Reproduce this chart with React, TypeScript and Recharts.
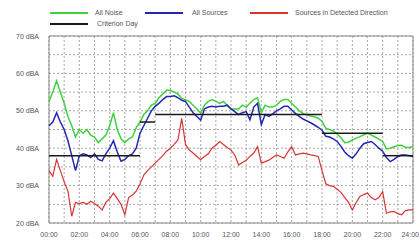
import React from 'react';
import {
  LineChart,
  Line,
  XAxis,
  YAxis,
  CartesianGrid,
  ReferenceArea,
} from 'recharts';

// levels every 15 minutes, 00:00 .. 24:00 (dBA)
const ALL_NOISE = [
  52.5, 55, 58, 55, 52, 48.5, 46, 43, 45, 44, 45, 43.5, 43, 41.5, 42.5, 43.5,
  46, 49.5, 45, 42.5, 41.5, 42.5, 43, 45.5, 47, 49, 50, 51.5, 52, 53.5, 54.5, 55.5,
  55.5, 55, 54.5, 53.3, 53, 52.5, 51.5, 50.5, 49.4, 51.5, 52.5, 53, 52.5, 52, 52.5, 51.5,
  50.5, 50.5, 50.5, 51.5, 51, 52, 53, 53.5, 49.5, 51.5, 51, 51, 51.5, 52.5, 53, 53,
  52, 51, 50, 49.3, 48.9, 48.6, 48.4, 48, 47.2, 45.3, 45, 44.6, 43.8, 42.8, 41.5, 41.6,
  42.2, 42.7, 43.1, 43.6, 44, 43.5, 43, 42.4, 41.8, 39.8, 40, 40.4, 40.7, 40.8, 40.2, 40.2,
  40.4,
];

const ALL_SOURCES = [
  46, 47, 49.5, 47, 45, 42, 38, 34, 38, 38.5, 38.2, 37.5, 38.5, 37, 36.6, 38.5,
  40, 42, 39, 36.5, 37, 38, 38.5, 40, 44, 46, 48, 50, 51.2, 52, 53, 53.8,
  53.8, 54, 53.5, 52.8, 52.5, 51, 49.5, 48.5, 47.5, 50.5, 51, 51.2, 51, 51.2, 51.2, 51.5,
  50.5, 49.8, 49, 49.5, 49.8, 47.6, 51, 52, 46.3, 49, 48.5, 49.2, 50, 50.5, 51.2, 51.2,
  50.2, 49.3, 48.5, 47.8, 47.3, 46.8, 46.2, 45.6, 44.8, 43.2, 43, 42.5, 41.8, 40.5, 39, 38,
  37.3, 38.5, 40, 41.2, 41.5, 41.8, 41, 40, 39.2, 37.5, 36.4, 37, 37.8, 38.2, 38.2, 38,
  37.8,
];

const DETECTED_DIRECTION = [
  34, 32.5, 37, 34, 31, 28.5, 21.8, 25.5, 25.2, 25.5, 25, 25.8, 25.2, 24.5, 23.5, 25.5,
  26.5, 28, 26.5, 25, 22.2, 26.8, 27.5, 28.5, 30.5, 32.8, 34, 35, 36, 37, 38, 39.2,
  40, 41, 42.2, 48, 41, 39.5, 38.7, 37.8, 36.9, 37.8, 38.5, 40, 40.8, 41.8, 41, 40.2,
  39.5, 38.2, 35.5, 36.2, 36.8, 37.8, 38.7, 40.4, 36, 36.4, 36.8, 37.5, 38.2, 37.8, 37.3, 39,
  40.4, 38.2, 38.5, 38.7, 38.5, 38.2, 38, 37.8, 34, 30.5, 30, 29.8, 29, 28.2, 26.8, 25.5,
  23.5, 25.5, 27.1, 27.6, 28, 26.8, 26.2, 26.8, 28.4, 22.6, 23, 23.1, 22.5, 22.2, 23.3, 23.5,
  23.5,
];

// criterion day: [from hour, to hour, level]
const CRITERION_STEPS: [number, number, number][] = [
  [0, 6, 38],
  [6, 7, 47],
  [7, 18, 49],
  [18, 22, 44],
  [22, 24, 38],
];

const X_TICKS = [0, 2, 4, 6, 8, 10, 12, 14, 16, 18, 20, 22, 24];
const Y_TICKS = [20, 30, 40, 50, 60, 70];
const GRID_HOURS = Array.from({ length: 25 }, (_, i) => i);
const GRID_LEVELS = [20, 25, 30, 35, 40, 45, 50, 55, 60, 65, 70];

const COLORS = {
  noise: '#3fd13f',
  sources: '#2228b4',
  direction: '#d83434',
  criterion: '#1a1a1a',
};

const LEGEND = [
  { label: 'All Noise', color: COLORS.noise, x: 50, y: 13, textX: 95 },
  { label: 'All Sources', color: COLORS.sources, x: 145, y: 13, textX: 192 },
  { label: 'Sources in Detected Direction', color: COLORS.direction, x: 250, y: 13, textX: 295 },
  { label: 'Criterion Day', color: COLORS.criterion, x: 50, y: 24, textX: 97 },
];

const FONT = '"Liberation Sans", Arial, sans-serif';
const TEXT_COLOR = '#555';

const data = ALL_NOISE.map((v, i) => ({
  t: i / 4,
  noise: v,
  sources: ALL_SOURCES[i],
  direction: DETECTED_DIRECTION[i],
}));

const fmtHour = (h: number) => `${String(h).padStart(2, '0')}:00`;

const XTick = (props: any) => {
  const { x, y, payload } = props;
  const last = payload.value === 24;
  return (
    <text
      x={last ? 419 : x}
      y={y}
      dy={4}
      textAnchor={last ? 'end' : 'middle'}
      fontSize={7}
      fontFamily={FONT}
      fill={TEXT_COLOR}
    >
      {fmtHour(payload.value)}
    </text>
  );
};

const YTick = (props: any) => {
  const { x, y, payload } = props;
  return (
    <text
      x={x}
      y={y}
      dy={2.5}
      textAnchor="end"
      fontSize={7}
      fontFamily={FONT}
      fill={TEXT_COLOR}
    >
      {`${payload.value} dBA`}
    </text>
  );
};

export default function App() {
  return (
    <div
      style={{
        position: 'fixed',
        left: 0,
        top: 0,
        width: 420,
        height: 244,
        background: '#fff',
        fontFamily: FONT,
      }}
    >
      {/* legend */}
      {LEGEND.map(item => (
        <React.Fragment key={item.label}>
          <div
            style={{
              position: 'absolute',
              left: item.x,
              top: item.y - 1,
              width: 38,
              height: 2,
              background: item.color,
            }}
          />
          <div
            style={{
              position: 'absolute',
              left: item.textX,
              top: item.y - 5,
              fontSize: 7,
              lineHeight: '9px',
              color: TEXT_COLOR,
              whiteSpace: 'nowrap',
            }}
          >
            {item.label}
          </div>
        </React.Fragment>
      ))}

      <div style={{ position: 'absolute', left: 0, top: 0 }}>
        <LineChart
          width={420}
          height={244}
          data={data}
          margin={{ top: 36, right: 7, bottom: 3, left: 0 }}
        >
          <CartesianGrid
            stroke="#a8a8a8"
            strokeDasharray="2 2"
            verticalValues={GRID_HOURS}
            horizontalValues={GRID_LEVELS}
          />
          <XAxis
            dataKey="t"
            type="number"
            domain={[0, 24]}
            ticks={X_TICKS}
            axisLine={false}
            tickLine={false}
            tickMargin={4}
            height={18}
            interval={0}
            tick={<XTick />}
          />
          <YAxis
            type="number"
            domain={[20, 70]}
            ticks={Y_TICKS}
            axisLine={false}
            tickLine={false}
            tickMargin={4}
            width={49}
            interval={0}
            tick={<YTick />}
          />
          <ReferenceArea
            x1={0}
            x2={24}
            y1={20}
            y2={70}
            fill="none"
            stroke="#8a8a8a"
            strokeWidth={1}
            ifOverflow="visible"
          />
          <Line
            dataKey="noise"
            stroke={COLORS.noise}
            strokeWidth={1.5}
            dot={false}
            type="linear"
            isAnimationActive={false}
          />
          <Line
            dataKey="sources"
            stroke={COLORS.sources}
            strokeWidth={1.5}
            dot={false}
            type="linear"
            isAnimationActive={false}
          />
          <Line
            dataKey="direction"
            stroke={COLORS.direction}
            strokeWidth={1.2}
            dot={false}
            type="linear"
            isAnimationActive={false}
          />
          {CRITERION_STEPS.map(([from, to, level]) => (
            <Line
              key={`crit-${from}`}
              data={[
                { t: from, level },
                { t: to, level },
              ]}
              dataKey="level"
              stroke={COLORS.criterion}
              strokeWidth={1.5}
              dot={false}
              type="linear"
              isAnimationActive={false}
            />
          ))}
        </LineChart>
      </div>
    </div>
  );
}
